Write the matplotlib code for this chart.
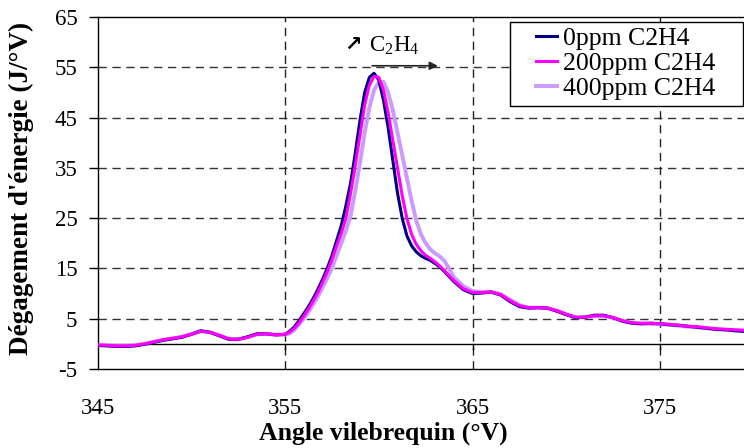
import matplotlib
matplotlib.use("Agg")
import matplotlib.pyplot as plt
from matplotlib.patches import Rectangle

plt.rcParams['font.family'] = ['Liberation Serif', 'DejaVu Sans']
plt.rcParams['mathtext.fontset'] = 'custom'
plt.rcParams['mathtext.rm'] = 'Liberation Serif'
plt.rcParams['mathtext.it'] = 'Liberation Serif'

angle = [345.0, 345.5, 346.0, 346.5, 347.0, 347.5, 348.0, 348.5, 349.0, 349.5,
         350.0, 350.5, 351.0, 351.5, 352.0, 352.5, 353.0, 353.5, 354.0, 354.5,
         355.0, 355.25, 355.5, 355.75, 356.0, 356.25, 356.5, 356.75, 357.0, 357.25,
         357.5, 357.75, 358.0, 358.25, 358.5, 358.75, 359.0, 359.25, 359.5, 359.75,
         360.0, 360.25, 360.5, 360.75, 361.0, 361.25, 361.5, 361.75, 362.0, 362.25,
         362.5, 362.75, 363.0, 363.25, 363.5, 363.75, 364.0, 364.5, 365.0, 365.5,
         366.0, 366.5, 367.0, 367.5, 368.0, 368.5, 369.0, 369.5, 370.0, 370.5,
         371.0, 371.5, 372.0, 372.5, 373.0, 373.5, 374.0, 374.5, 375.0, 375.5,
         376.0, 376.5, 377.0, 377.5, 378.0, 378.5, 379.0, 379.5, 380.0]

ppm0 = [-0.3, -0.4, -0.5, -0.5, -0.4, -0.1, 0.3, 0.7, 1.0, 1.3,
        1.9, 2.6, 2.3, 1.6, 0.9, 0.9, 1.4, 2.0, 2.0, 1.8,
        1.9, 2.5, 3.4, 4.6, 6.0, 7.4, 9.0, 10.8, 12.8, 15.0,
        17.5, 20.5, 23.5, 27.5, 32.0, 38.0, 44.5, 50.0, 53.0, 53.8,
        52.5, 48.5, 43.0, 36.5, 30.0, 25.0, 21.5, 19.5, 18.3, 17.5,
        17.0, 16.6, 16.0, 15.3, 14.4, 13.4, 12.4, 10.8, 10.0, 10.1,
        10.3, 9.7, 8.4, 7.4, 7.1, 7.2, 7.1, 6.5, 5.8, 5.2,
        5.3, 5.7, 5.7, 5.2, 4.5, 4.1, 4.0, 4.1, 4.0, 3.8,
        3.7, 3.5, 3.3, 3.1, 2.9, 2.8, 2.6, 2.5, 2.4]

ppm200 = [-0.2, -0.3, -0.4, -0.4, -0.3, 0.0, 0.4, 0.8, 1.1, 1.4,
          1.9, 2.5, 2.3, 1.7, 1.0, 0.9, 1.3, 1.9, 2.0, 1.8,
          1.9, 2.3, 3.1, 4.2, 5.5, 6.9, 8.5, 10.2, 12.2, 14.3,
          16.7, 19.5, 22.0, 25.0, 30.0, 35.5, 41.5, 47.5, 51.5, 53.2,
          53.0, 50.5, 46.0, 40.5, 35.0, 29.5, 25.0, 21.8, 19.8, 18.5,
          17.6, 17.0, 16.3, 15.5, 14.6, 13.6, 12.6, 11.0, 10.2, 10.2,
          10.3, 9.8, 8.6, 7.6, 7.2, 7.2, 7.1, 6.6, 5.9, 5.3,
          5.3, 5.6, 5.6, 5.2, 4.6, 4.2, 4.1, 4.1, 4.0, 3.9,
          3.7, 3.5, 3.4, 3.2, 3.0, 2.9, 2.8, 2.7, 2.6]

ppm400 = [-0.3, -0.3, -0.4, -0.4, -0.3, 0.0, 0.4, 0.8, 1.1, 1.4,
          1.9, 2.5, 2.3, 1.7, 1.0, 0.9, 1.3, 1.9, 2.0, 1.8,
          1.8, 2.1, 2.8, 3.8, 5.0, 6.3, 7.8, 9.4, 11.2, 13.0,
          15.0, 17.5, 20.0, 22.5, 25.5, 30.5, 36.0, 42.0, 47.0, 50.5,
          52.0, 52.1, 50.0, 46.5, 42.0, 37.5, 33.0, 28.5, 24.5, 21.8,
          20.0, 18.8, 18.0, 17.4, 16.5, 15.0, 13.3, 11.5, 10.5, 10.3,
          10.3, 9.9, 8.8, 7.7, 7.2, 7.2, 7.1, 6.6, 5.9, 5.3,
          5.3, 5.5, 5.5, 5.2, 4.6, 4.2, 4.0, 4.0, 3.9, 3.8,
          3.6, 3.4, 3.3, 3.1, 2.9, 2.8, 2.7, 2.5, 2.4]

series_labels = ['0ppm C2H4', '200ppm C2H4', '400ppm C2H4']
series_colors = ['#000080', '#FF00FF', '#CC99FF']
yticks = [-5, 5, 15, 25, 35, 45, 55, 65]
xticks = [345, 355, 365, 375]

W, H = 744, 448
fig = plt.figure(figsize=(W / 100, H / 100), dpi=100)
x0, x1 = 97.5, 744
y_top, y_bot = 17, 369
ax = fig.add_axes([x0 / W, 1 - y_bot / H, (x1 - x0) / W, (y_bot - y_top) / H])
ax.set_xlim(345, 345 + (x1 - x0) / 18.75)
ax.set_ylim(-5, 65)

# grid
for yv in yticks[1:-1]:
    ax.axhline(yv, color='#333333', lw=1.0, ls=(0, (6, 4)), zorder=1)
for xv in xticks[1:]:
    ax.axvline(xv, color='#222222', lw=1.0, ls=(0, (6, 4)), zorder=1)
ax.axhline(0, color='black', lw=1.0, zorder=2)

l0, = ax.plot(angle, ppm0, color=series_colors[0], lw=2.2, zorder=4, label=series_labels[0])
l2, = ax.plot(angle, ppm400, color=series_colors[2], lw=2.8, zorder=3, label=series_labels[2])
l1, = ax.plot(angle, ppm200, color=series_colors[1], lw=2.2, zorder=5, label=series_labels[1])

for s in ['left', 'top', 'bottom']:
    ax.spines[s].set_color('black')
    ax.spines[s].set_linewidth(1.0)
ax.spines['right'].set_visible(False)

ax.set_yticks(yticks)
ax.set_yticklabels([str(v) for v in yticks], fontsize=16.5)
ax.set_xticks(xticks)
ax.set_xticklabels([str(v) for v in xticks], fontsize=16.5)
ax.tick_params(axis='y', direction='out', length=6.5, width=1, pad=8)
ax.tick_params(axis='x', direction='out', length=0, pad=21)
for xv in xticks[1:]:
    ax.plot([xv, xv], [0, -1.0], color='black', lw=1.0, zorder=2, clip_on=False)

fig.text(21 / W, 1 - 188 / H, "Dégagement d'énergie (J/°V)", rotation=90,
         ha='center', va='center', fontsize=19.5, fontweight='bold')
fig.text(383 / W, 1 - 433 / H, "Angle vilebrequin (°V)", ha='center', va='center',
         fontsize=18.5, fontweight='bold')

# annotation
fig.text(344 / W, 1 - 45 / H, "↗", ha='left', va='center', fontsize=15,
         family=['DejaVu Sans'], fontweight='bold')
fig.text(369 / W, 1 - 46 / H, r"C$_2$H$_4$", ha='left', va='center', fontsize=16.5)
ax.annotate('', xy=(363.3, 55.3), xytext=(359.5, 55.3),
            arrowprops=dict(arrowstyle='-|>', color='#222222', lw=1.2,
                            mutation_scale=12), annotation_clip=False)

# legend
fig.patches.append(Rectangle((510 / W, 1 - 106 / H), (743 - 510) / W, (106 - 22) / H,
                             transform=fig.transFigure, facecolor='white',
                             edgecolor='black', lw=1.0, zorder=10))
leg = fig.legend(handles=[l0, l1, l2], loc='upper left',
                 bbox_to_anchor=(536 / W, 1 - 27 / H),
                 borderaxespad=0, fontsize=18.5, frameon=False,
                 handlelength=0.8, handletextpad=0.25, labelspacing=0.08,
                 borderpad=0.0)
leg.set_zorder(11)

fig.savefig('out.png', dpi=100)
